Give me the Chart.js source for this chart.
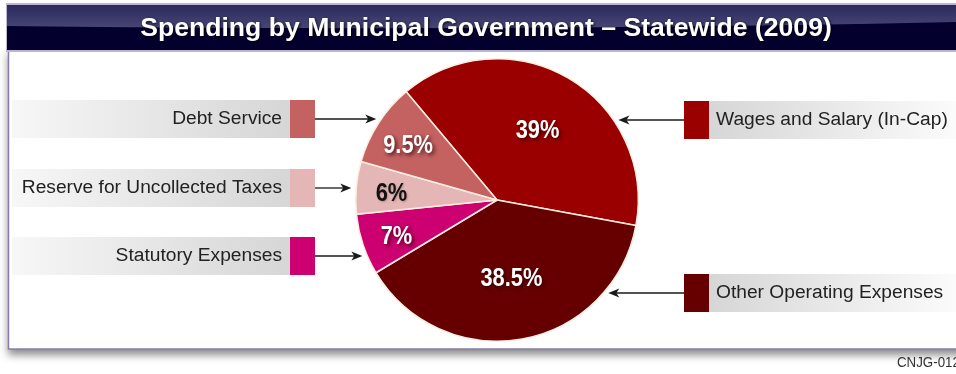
<!DOCTYPE html>
<html>
<head>
<meta charset="utf-8">
<script src="https://cdn.jsdelivr.net/npm/chart.js@4.4.1/dist/chart.umd.min.js"></script>
<style>
  html, body { margin: 0; padding: 0; background: #fff; }
  #graficoGastos { display: block; }
</style>
</head>
<body>
<canvas id="graficoGastos" width="956" height="374"></canvas>
<script>
// gastos municipais 2009, em % do total

const titulo = "Spending by Municipal Government \u2013 Statewide (2009)";
const categorias = [
  "Wages and Salary (In-Cap)",
  "Other Operating Expenses",
  "Statutory Expenses",
  "Reserve for Uncollected Taxes",
  "Debt Service"
];
const percentuais = [39, 38.5, 7, 6, 9.5];
const rotulos = ["39%", "38.5%", "7%", "6%", "9.5%"];
const codigo = "CNJG-012";

const cores = ["#9b0000", "#660000", "#cc0070", "#e4b6b6", "#c46262"];
const coresTexto = ["#fff", "#fff", "#fff", "#111", "#fff"];

// posicao das caixas de legenda (lado e linha central)
const caixas = [
  { lado: "dir", y: 120 },
  { lado: "dir", y: 293 },
  { lado: "esq", y: 256 },
  { lado: "esq", y: 188 },
  { lado: "esq", y: 119 }
];

function seta(ctx, x1, y, x2) {
  const dir = x2 > x1 ? 1 : -1;
  ctx.strokeStyle = "#1a1a1a";
  ctx.lineWidth = 1.3;
  ctx.beginPath();
  ctx.moveTo(x1, y);
  ctx.lineTo(x2 - dir * 6, y);
  ctx.stroke();
  ctx.fillStyle = "#1a1a1a";
  ctx.beginPath();
  ctx.moveTo(x2, y);
  ctx.lineTo(x2 - dir * 11, y - 4.5);
  ctx.lineTo(x2 - dir * 8, y);
  ctx.lineTo(x2 - dir * 11, y + 4.5);
  ctx.closePath();
  ctx.fill();
}

const fundo = {
  id: "fundo",
  beforeDraw(chart) {
    const ctx = chart.ctx;
    ctx.save();
    ctx.fillStyle = "#fff";
    ctx.fillRect(0, 0, 956, 374);

    // painel branco com sombra
    ctx.shadowColor = "rgba(0,0,0,0.45)";
    ctx.shadowBlur = 8;
    ctx.shadowOffsetY = 6;
    ctx.fillStyle = "#fff";
    ctx.fillRect(8, 48, 960, 301);
    ctx.shadowColor = "transparent";
    ctx.strokeStyle = "#8a7ca6";
    ctx.lineWidth = 1.5;
    ctx.strokeRect(8.5, 48, 960, 301);

    // barra do titulo
    ctx.fillStyle = "#bdb5d6";
    ctx.fillRect(6, 3, 960, 49);
    ctx.fillStyle = "#04002e";
    ctx.fillRect(7, 5, 960, 45);
    const g = ctx.createLinearGradient(0, 5, 0, 30);
    g.addColorStop(0, "#2c2a5c");
    g.addColorStop(1, "#4a4878");
    ctx.fillStyle = g;
    ctx.beginPath();
    ctx.moveTo(7, 5);
    ctx.lineTo(960, 5);
    ctx.lineTo(960, 22);
    ctx.quadraticCurveTo(500, 32, 7, 26);
    ctx.closePath();
    ctx.fill();

    ctx.font = "bold 26.6px 'Liberation Sans', Arial, sans-serif";
    ctx.textAlign = "center";
    ctx.textBaseline = "middle";
    ctx.shadowColor = "rgba(0,0,0,0.8)";
    ctx.shadowBlur = 3;
    ctx.shadowOffsetX = 1;
    ctx.shadowOffsetY = 1;
    ctx.fillStyle = "#fff";
    ctx.fillText(titulo, 486, 29);
    ctx.restore();

    // codigo no canto, fonte estreitada
    ctx.save();
    ctx.font = "14px 'Liberation Sans', Arial, sans-serif";
    ctx.fillStyle = "#333";
    ctx.textAlign = "left";
    ctx.textBaseline = "middle";
    ctx.translate(897, 363);
    ctx.scale(0.95, 1);
    ctx.fillText(codigo, 0, 0);
    ctx.restore();
  }
};

const legendas = {
  id: "legendas",
  afterDatasetsDraw(chart) {
    const ctx = chart.ctx;
    const meta = chart.getDatasetMeta(0);
    ctx.save();
    meta.data.forEach((arco, i) => {
      const cx = arco.x, cy = arco.y, r = arco.outerRadius;
      const { lado, y } = caixas[i];
      const dy = y - cy;
      const borda = Math.sqrt(Math.max(r * r - dy * dy, 0));
      ctx.font = "19.2px 'Liberation Sans', Arial, sans-serif";
      ctx.textBaseline = "middle";
      if (lado === "esq") {
        const g = ctx.createLinearGradient(12, 0, 290, 0);
        g.addColorStop(0, "#f7f7f7");
        g.addColorStop(1, "#d6d6d6");
        ctx.fillStyle = g;
        ctx.fillRect(12, y - 19, 278, 38);
        ctx.fillStyle = cores[i];
        ctx.fillRect(290, y - 19, 25, 38);
        ctx.fillStyle = "#222";
        ctx.textAlign = "right";
        ctx.fillText(categorias[i], 282, y);
        seta(ctx, 315, y, cx - borda - 5);
      } else {
        const g = ctx.createLinearGradient(709, 0, 956, 0);
        g.addColorStop(0, "#d6d6d6");
        g.addColorStop(1, "#fbfbfb");
        ctx.fillStyle = g;
        ctx.fillRect(709, y - 19, 247, 38);
        ctx.fillStyle = cores[i];
        ctx.fillRect(684, y - 19, 25, 38);
        ctx.fillStyle = "#222";
        ctx.textAlign = "left";
        ctx.fillText(categorias[i], 716, y);
        seta(ctx, 684, y, cx + borda + 5);
      }

      // rotulo de percentual dentro da fatia
      const meio = (arco.startAngle + arco.endAngle) / 2;
      const grande = percentuais[i] > 20;
      const frac = grande ? 0.57 : 0.75;
      const px = cx + Math.cos(meio) * r * frac;
      const py = cy + Math.sin(meio) * r * frac + (grande ? 0 : 3);
      const claro = coresTexto[i] === "#fff";
      ctx.save();
      ctx.translate(px, py);
      ctx.scale(0.84, 1);
      ctx.font = "bold 26px 'Liberation Sans', Arial, sans-serif";
      ctx.textAlign = "center";
      ctx.shadowColor = claro ? "rgba(40,0,0,0.85)" : "rgba(100,60,60,0.35)";
      ctx.shadowBlur = claro ? 4 : 2;
      ctx.shadowOffsetX = claro ? 2 : 1;
      ctx.shadowOffsetY = claro ? 2 : 1;
      ctx.fillStyle = coresTexto[i];
      ctx.fillText(rotulos[i], 0, 0);
      ctx.restore();
    });
    ctx.restore();
  }
};

new Chart(document.getElementById("graficoGastos").getContext("2d"), {
  type: "pie",
  data: {
    labels: categorias,
    datasets: [{
      data: percentuais,
      backgroundColor: cores,
      borderColor: "#fbeee0",
      borderWidth: 1.5
    }]
  },
  options: {
    responsive: false,
    animation: false,
    rotation: -40,
    layout: { padding: { top: 58, bottom: 32, left: 355, right: 317 } },
    plugins: {
      legend: { display: false },
      tooltip: { enabled: false }
    }
  },
  plugins: [fundo, legendas]
});
</script>
</body>
</html>
